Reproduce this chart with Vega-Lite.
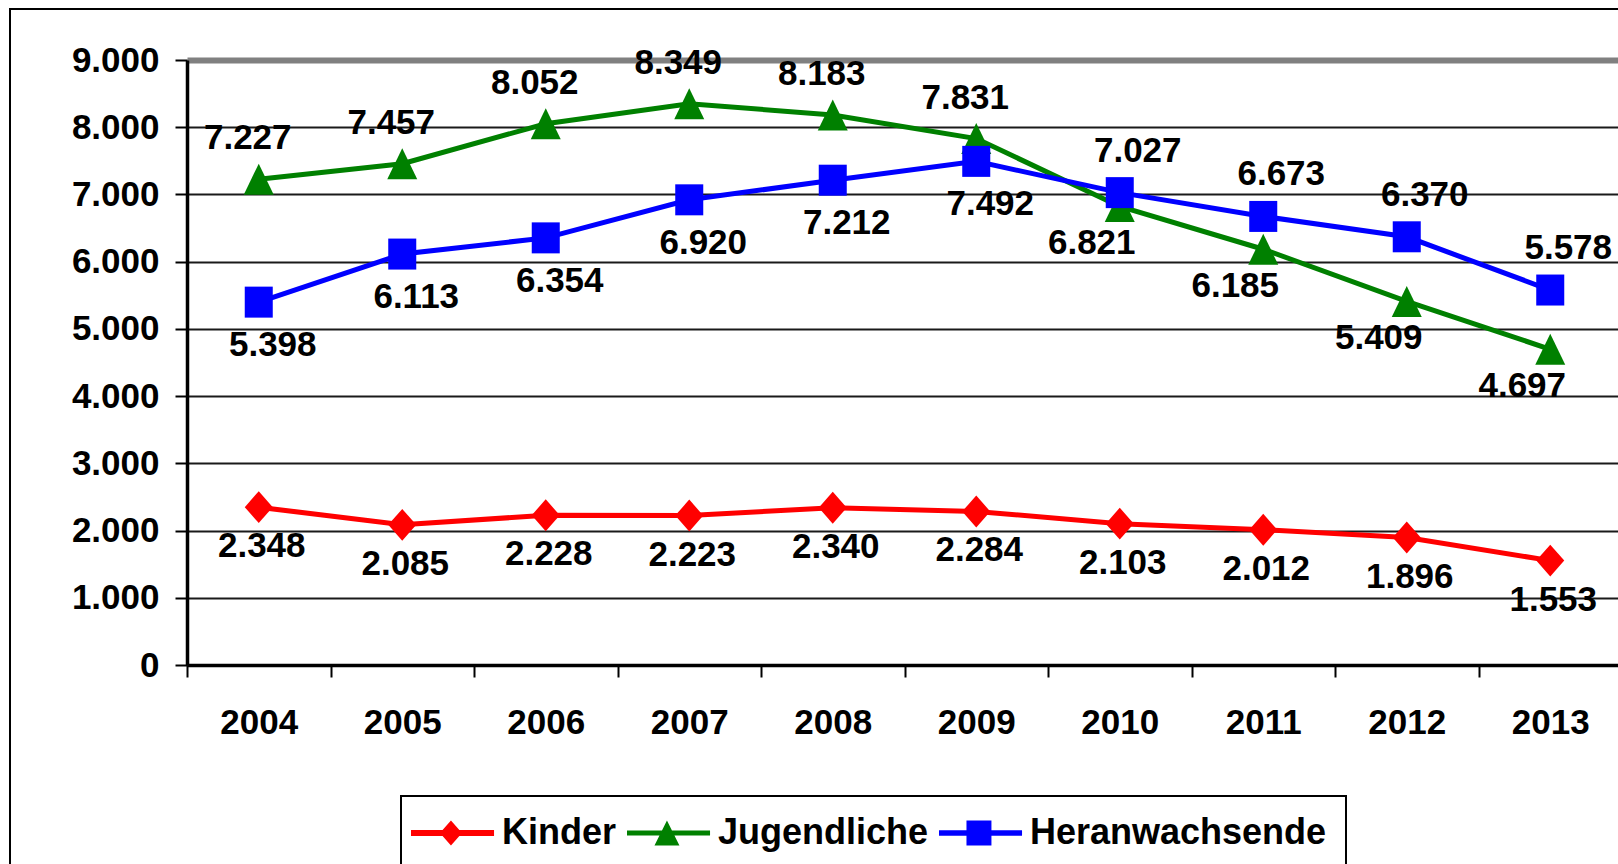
{
  "$schema": "https://vega.github.io/schema/vega-lite/v6.json",
  "width": 1630,
  "height": 881,
  "autosize": {"type": "none"},
  "padding": {"left": 10, "top": 9, "right": -22, "bottom": -26},
  "background": "white",
  "config": {
    "font": "Liberation Sans",
    "view": {"stroke": "#000000", "strokeWidth": 2},
    "locale": {"number": {"decimal": ",", "thousands": ".", "grouping": [3], "currency": ["", " €"]}},
    "legend": {
      "orient": "none", "legendX": 391, "legendY": 787,
      "direction": "horizontal", "padding": 19,
      "strokeColor": "#000000", "fillColor": "#ffffff",
      "symbolSize": 576, "symbolStrokeWidth": 0, "symbolOpacity": 1,
      "labelOffset": 46, "columnPadding": 10,
      "labelFont": "Liberation Sans", "labelFontSize": 36, "labelFontWeight": "bold",
      "labelColor": "#000000", "labelLimit": 600
    }
  },
  "data": {
    "values": [
      {"year": 2004, "group": "Kinder", "value": 2348},
      {"year": 2005, "group": "Kinder", "value": 2085},
      {"year": 2006, "group": "Kinder", "value": 2228},
      {"year": 2007, "group": "Kinder", "value": 2223},
      {"year": 2008, "group": "Kinder", "value": 2340},
      {"year": 2009, "group": "Kinder", "value": 2284},
      {"year": 2010, "group": "Kinder", "value": 2103},
      {"year": 2011, "group": "Kinder", "value": 2012},
      {"year": 2012, "group": "Kinder", "value": 1896},
      {"year": 2013, "group": "Kinder", "value": 1553},
      {"year": 2004, "group": "Jugendliche", "value": 7227},
      {"year": 2005, "group": "Jugendliche", "value": 7457},
      {"year": 2006, "group": "Jugendliche", "value": 8052},
      {"year": 2007, "group": "Jugendliche", "value": 8349},
      {"year": 2008, "group": "Jugendliche", "value": 8183},
      {"year": 2009, "group": "Jugendliche", "value": 7831},
      {"year": 2010, "group": "Jugendliche", "value": 6821},
      {"year": 2011, "group": "Jugendliche", "value": 6185},
      {"year": 2012, "group": "Jugendliche", "value": 5409},
      {"year": 2013, "group": "Jugendliche", "value": 4697},
      {"year": 2004, "group": "Heranwachsende", "value": 5398},
      {"year": 2005, "group": "Heranwachsende", "value": 6113},
      {"year": 2006, "group": "Heranwachsende", "value": 6354},
      {"year": 2007, "group": "Heranwachsende", "value": 6920},
      {"year": 2008, "group": "Heranwachsende", "value": 7212},
      {"year": 2009, "group": "Heranwachsende", "value": 7492},
      {"year": 2010, "group": "Heranwachsende", "value": 7027},
      {"year": 2011, "group": "Heranwachsende", "value": 6673},
      {"year": 2012, "group": "Heranwachsende", "value": 6370},
      {"year": 2013, "group": "Heranwachsende", "value": 5578}
    ]
  },
  "encoding": {
    "x": {
      "field": "year", "type": "ordinal",
      "scale": {"type": "band", "range": [177, 1612], "paddingInner": 0, "paddingOuter": 0},
      "axis": {
        "title": null, "offset": -225, "grid": false, "labelAngle": 0,
        "domainColor": "#000000", "domainWidth": 3.5,
        "tickBand": "extent", "tickColor": "#000000", "tickWidth": 2, "tickSize": 12,
        "labelFont": "Liberation Sans", "labelFontSize": 35, "labelFontWeight": "bold",
        "labelColor": "#000000", "labelPadding": 28
      }
    },
    "y": {
      "field": "value", "type": "quantitative",
      "scale": {"domain": [0, 9000], "range": [656, 51], "nice": false},
      "axis": {
        "title": null, "offset": -177,
        "values": [0, 1000, 2000, 3000, 4000, 5000, 6000, 7000, 8000, 9000],
        "format": ",d",
        "domainColor": "#000000", "domainWidth": 3.5,
        "tickColor": "#000000", "tickWidth": 2, "tickSize": 12,
        "labelFont": "Liberation Sans", "labelFontSize": 35, "labelFontWeight": "bold",
        "labelColor": "#000000", "labelPadding": 16,
        "grid": true,
        "gridColor": {"condition": {"test": "datum.value === 9000", "value": "#808080"}, "value": "#1a1a1a"},
        "gridWidth": {"condition": {"test": "datum.value === 9000", "value": 6}, "value": 2}
      }
    }
  },
  "layer": [
    {
      "mark": {"type": "line", "strokeWidth": 5},
      "encoding": {
        "color": {
          "field": "group", "type": "nominal",
          "scale": {"domain": ["Kinder", "Jugendliche", "Heranwachsende"], "range": ["#FF0000", "#008000", "#0000FF"]},
          "legend": {
            "title": null,
            "encode": {
              "legend": {"update": {"strokeWidth": {"value": 2}}},
              "symbols": {
                "update": {
                  "shape": {"signal": "datum.value === 'Kinder' ? 'M-2.25,-0.25H4.67V0.25H-2.25Z M1.08,-1.04L2,0L1.08,1.04L0.16,0Z' : datum.value === 'Jugendliche' ? 'M-2.25,-0.2H4.67V0.2H-2.25Z M1.08,-1.04L2.12,1.04L0.04,1.04Z' : 'M-2.25,-0.22H4.67V0.22H-2.25Z M0.04,-1.04H2.12V1.04H0.04Z'"},
                  "fill": {"scale": "color", "field": "value"},
                  "stroke": {"value": "transparent"},
                  "strokeWidth": {"value": 0},
                  "opacity": {"value": 1}
                }
              }
            }
          }
        }
      }
    },
    {
      "transform": [{"filter": "datum.group === 'Kinder'"}],
      "mark": {"type": "point", "filled": true, "opacity": 1, "size": 841, "strokeWidth": 0, "fill": "#FF0000", "shape": "M0,-1.1L0.966,0L0,1.1L-0.966,0Z"}
    },
    {
      "transform": [{"filter": "datum.group === 'Jugendliche'"}],
      "mark": {"type": "point", "filled": true, "opacity": 1, "size": 841, "strokeWidth": 0, "fill": "#008000", "shape": "M0,-1.069L1.034,1.069L-1.034,1.069Z"}
    },
    {
      "transform": [{"filter": "datum.group === 'Heranwachsende'"}],
      "mark": {"type": "point", "filled": true, "opacity": 1, "size": 841, "strokeWidth": 0, "fill": "#0000FF", "shape": "M-0.966,-1.069H0.966V1.069H-0.966Z"}
    },
    {
      "transform": [{"filter": "datum.group === 'Jugendliche' && datum.year <= 2009"}],
      "mark": {"type": "text", "font": "Liberation Sans", "fontSize": 35, "fontWeight": "bold", "fill": "#000000", "dx": -11, "dy": -41},
      "encoding": {"text": {"field": "value", "type": "quantitative", "format": ",d"}}
    },
    {
      "transform": [{"filter": "datum.group === 'Jugendliche' && datum.year >= 2010"}],
      "mark": {"type": "text", "font": "Liberation Sans", "fontSize": 35, "fontWeight": "bold", "fill": "#000000", "dx": -28, "dy": 37},
      "encoding": {"text": {"field": "value", "type": "quantitative", "format": ",d"}}
    },
    {
      "transform": [{"filter": "datum.group === 'Heranwachsende' && datum.year <= 2009"}],
      "mark": {"type": "text", "font": "Liberation Sans", "fontSize": 35, "fontWeight": "bold", "fill": "#000000", "dx": 14, "dy": 43},
      "encoding": {"text": {"field": "value", "type": "quantitative", "format": ",d"}}
    },
    {
      "transform": [{"filter": "datum.group === 'Heranwachsende' && datum.year >= 2010"}],
      "mark": {"type": "text", "font": "Liberation Sans", "fontSize": 35, "fontWeight": "bold", "fill": "#000000", "dx": 18, "dy": -42},
      "encoding": {"text": {"field": "value", "type": "quantitative", "format": ",d"}}
    },
    {
      "transform": [{"filter": "datum.group === 'Kinder'"}],
      "mark": {"type": "text", "font": "Liberation Sans", "fontSize": 35, "fontWeight": "bold", "fill": "#000000", "dx": 3, "dy": 39},
      "encoding": {"text": {"field": "value", "type": "quantitative", "format": ",d"}}
    }
  ]
}
